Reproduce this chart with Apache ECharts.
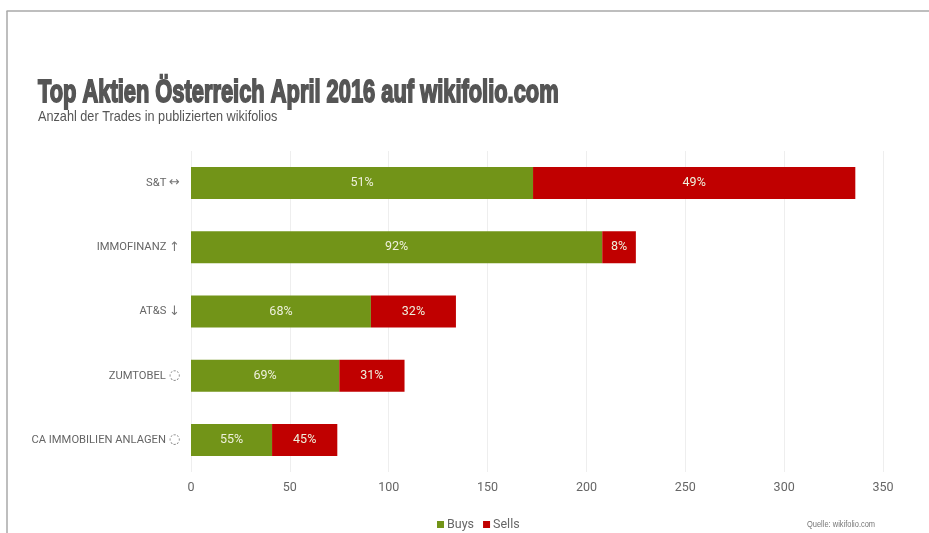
<!DOCTYPE html>
<html><head><meta charset="utf-8">
<style>html,body{margin:0;padding:0;background:#fff}#c{width:929px;height:533px}</style>
<script src="https://cdn.jsdelivr.net/npm/echarts@6/dist/echarts.min.js"></script>
</head><body><div id="c"></div>
<script>
const names = ["S&T","IMMOFINANZ","AT&S","ZUMTOBEL","CA IMMOBILIEN ANLAGEN"];
const marks = ["↔","↑","↓","◌","◌"];
const categories = names.map((n,i)=>n+" "+marks[i]);
const buys = [173,208,91,75,41];
const sells = [163,17,43,33,33];
const buyPct = ["51%","92%","68%","69%","55%"];
const sellPct = ["49%","8%","32%","31%","45%"];
const font = 'Roboto,"Liberation Sans",sans-serif';
const chart = echarts.init(document.getElementById('c'),null,{renderer:'canvas'});
function lab(arr){return {show:true,position:'inside',color:'#eef0dc',fontSize:12.5,fontFamily:font,
  formatter:p=>arr[p.dataIndex]};}
function txt(text,x,y,sx,size,color,weight,extra){
  return {type:'text',x:x,y:y,scaleX:sx,style:Object.assign({text:text,fill:color,
    font:weight+' '+size+'px "Liberation Sans",sans-serif',textVerticalAlign:'middle'},extra||{})};
}
chart.setOption({
  animation:false,
  backgroundColor:'#fff',
  legend:{data:['Buys','Sells'],left:437,top:518,padding:0,itemWidth:7,itemHeight:7,itemGap:9,icon:'rect',
    textStyle:{fontFamily:font,fontSize:12.5,color:'#666',padding:[0,0,0,-2]}},
  grid:{left:191,top:151,width:692,height:321},
  xAxis:{type:'value',min:0,max:350,interval:50,
    axisLine:{show:false},axisTick:{show:false},
    splitLine:{show:true,lineStyle:{color:'#eeeeee',width:1}},
    axisLabel:{color:'#666',fontFamily:font,fontSize:12.5,margin:9}},
  yAxis:{type:'category',inverse:true,data:categories,
    axisLabel:{color:'#666',fontFamily:font,fontSize:11.2,margin:11,
      formatter:(v,i)=>names[i]+' {m|'+marks[i]+'}',
      rich:{m:{fontFamily:'"DejaVu Sans"',fontSize:13,color:'#777'}}},
    axisLine:{show:false},axisTick:{show:false}},
  series:[
    {name:'Buys',type:'bar',stack:'t',barWidth:32,data:buys,itemStyle:{color:'#729418'},label:lab(buyPct)},
    {name:'Sells',type:'bar',stack:'t',barWidth:32,data:sells,itemStyle:{color:'#c00000'},label:lab(sellPct)}
  ],
  graphic:[
    {type:'line',shape:{x1:6.5,y1:11,x2:929,y2:11},style:{stroke:'#a8a8a8',lineWidth:1.5}},
    {type:'line',shape:{x1:7,y1:11,x2:7,y2:533},style:{stroke:'#a8a8a8',lineWidth:1.5}},
    txt('Top Aktien Österreich April 2016 auf wikifolio.com',38,93,0.705,31,'#555','bold',{stroke:'#555',lineWidth:1.8}),
    txt('Anzahl der Trades in publizierten wikifolios',38,117,0.875,14.5,'#555','normal'),
    txt('Quelle: wikifolio.com',807,525,0.83,9,'#777','normal')
  ]
});
</script></body></html>
